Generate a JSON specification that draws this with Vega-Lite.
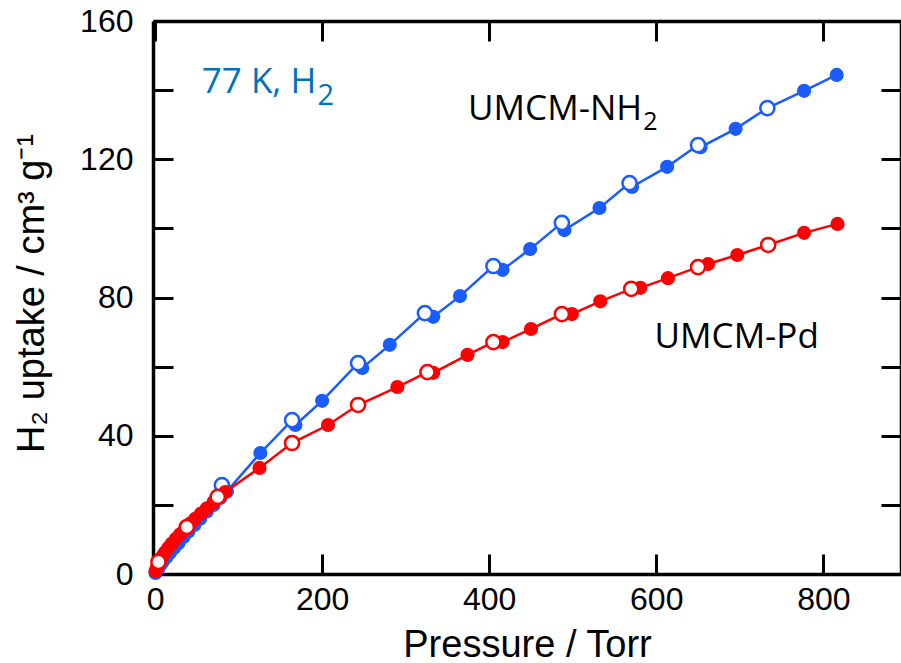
{
  "$schema": "https://vega.github.io/schema/vega-lite/v6.json",
  "width": 748,
  "height": 553,
  "autosize": {"type": "none"},
  "padding": {"left": 153, "top": 21, "right": 0, "bottom": 89},
  "background": "white",
  "config": {
    "view": {"stroke": null},
    "axis": {
      "grid": false,
      "domainColor": "black",
      "tickColor": "black",
      "labelColor": "black",
      "titleColor": "black",
      "domainWidth": 3.5,
      "tickWidth": 3,
      "labelFont": "Liberation Sans",
      "titleFont": "Liberation Sans",
      "labelFontSize": 32,
      "titleFontSize": 38,
      "titleFontWeight": "normal",
      "labelFlush": false,
      "labelOverlap": false
    }
  },
  "datasets": {
    "nh2": [
      {"p": 0.5, "u": 0.3, "kind": "ads"},
      {"p": 2, "u": 0.9, "kind": "ads"},
      {"p": 4, "u": 1.7, "kind": "ads"},
      {"p": 7, "u": 2.8, "kind": "ads"},
      {"p": 10, "u": 3.8, "kind": "ads"},
      {"p": 14, "u": 5.0, "kind": "ads"},
      {"p": 18, "u": 6.2, "kind": "ads"},
      {"p": 23, "u": 7.6, "kind": "ads"},
      {"p": 28, "u": 9.0, "kind": "ads"},
      {"p": 34, "u": 10.7, "kind": "ads"},
      {"p": 40, "u": 12.3, "kind": "ads"},
      {"p": 47, "u": 14.2, "kind": "ads"},
      {"p": 54, "u": 16.0, "kind": "ads"},
      {"p": 62, "u": 18.1, "kind": "ads"},
      {"p": 70, "u": 20.0, "kind": "ads"},
      {"p": 78, "u": 22.0, "kind": "ads"},
      {"p": 86, "u": 23.9, "kind": "ads"},
      {"p": 126, "u": 35.0, "kind": "ads"},
      {"p": 168, "u": 43.1, "kind": "ads"},
      {"p": 200, "u": 50.1, "kind": "ads"},
      {"p": 248, "u": 59.6, "kind": "ads"},
      {"p": 281, "u": 66.3, "kind": "ads"},
      {"p": 333, "u": 74.4, "kind": "ads"},
      {"p": 365, "u": 80.4, "kind": "ads"},
      {"p": 416, "u": 88.0, "kind": "ads"},
      {"p": 449, "u": 94.0, "kind": "ads"},
      {"p": 490, "u": 99.5, "kind": "ads"},
      {"p": 532, "u": 105.9, "kind": "ads"},
      {"p": 571, "u": 112.0, "kind": "ads"},
      {"p": 613, "u": 117.8, "kind": "ads"},
      {"p": 653, "u": 123.5, "kind": "ads"},
      {"p": 695, "u": 128.8, "kind": "ads"},
      {"p": 777, "u": 139.8, "kind": "ads"},
      {"p": 816, "u": 144.4, "kind": "ads"},
      {"p": 733, "u": 134.8, "kind": "des"},
      {"p": 650, "u": 124.1, "kind": "des"},
      {"p": 568, "u": 113.1, "kind": "des"},
      {"p": 487, "u": 101.6, "kind": "des"},
      {"p": 405, "u": 89.1, "kind": "des"},
      {"p": 323, "u": 75.5, "kind": "des"},
      {"p": 243, "u": 61.0, "kind": "des"},
      {"p": 164, "u": 44.5, "kind": "des"},
      {"p": 80, "u": 25.7, "kind": "des"}
    ],
    "pd": [
      {"p": 0.5, "u": 0.8, "kind": "ads"},
      {"p": 2, "u": 1.8, "kind": "ads"},
      {"p": 4, "u": 3.0, "kind": "ads"},
      {"p": 6, "u": 4.0, "kind": "ads"},
      {"p": 9, "u": 5.2, "kind": "ads"},
      {"p": 12, "u": 6.3, "kind": "ads"},
      {"p": 16, "u": 7.6, "kind": "ads"},
      {"p": 20, "u": 8.8, "kind": "ads"},
      {"p": 25, "u": 10.2, "kind": "ads"},
      {"p": 30, "u": 11.5, "kind": "ads"},
      {"p": 36, "u": 13.0, "kind": "ads"},
      {"p": 42, "u": 14.6, "kind": "ads"},
      {"p": 48, "u": 16.0, "kind": "ads"},
      {"p": 55, "u": 17.5, "kind": "ads"},
      {"p": 62, "u": 19.0, "kind": "ads"},
      {"p": 70, "u": 20.8, "kind": "ads"},
      {"p": 78, "u": 22.5, "kind": "ads"},
      {"p": 84, "u": 23.7, "kind": "ads"},
      {"p": 125, "u": 30.7, "kind": "ads"},
      {"p": 207, "u": 43.1, "kind": "ads"},
      {"p": 290, "u": 54.1, "kind": "ads"},
      {"p": 333, "u": 58.2, "kind": "ads"},
      {"p": 374, "u": 63.4, "kind": "ads"},
      {"p": 416, "u": 67.1, "kind": "ads"},
      {"p": 450, "u": 70.9, "kind": "ads"},
      {"p": 499, "u": 75.2, "kind": "ads"},
      {"p": 533, "u": 78.9, "kind": "ads"},
      {"p": 581, "u": 82.8, "kind": "ads"},
      {"p": 614, "u": 85.6, "kind": "ads"},
      {"p": 662, "u": 89.7, "kind": "ads"},
      {"p": 697, "u": 92.3, "kind": "ads"},
      {"p": 777, "u": 98.7, "kind": "ads"},
      {"p": 817, "u": 101.3, "kind": "ads"},
      {"p": 734, "u": 95.2, "kind": "des"},
      {"p": 650, "u": 88.8, "kind": "des"},
      {"p": 570, "u": 82.5, "kind": "des"},
      {"p": 487, "u": 75.2, "kind": "des"},
      {"p": 405, "u": 67.1, "kind": "des"},
      {"p": 326, "u": 58.4, "kind": "des"},
      {"p": 243, "u": 48.9, "kind": "des"},
      {"p": 164, "u": 37.9, "kind": "des"},
      {"p": 75, "u": 22.3, "kind": "des"},
      {"p": 38, "u": 13.6, "kind": "des"},
      {"p": 4, "u": 3.5, "kind": "des"}
    ],
    "labels": [
      {"p": 193, "u": 139.2, "t": "77 K, H", "kind": "blueMain"},
      {"p": 194.5, "u": 135.8, "t": "2", "kind": "blueSub"},
      {"p": 583, "u": 131.4, "t": "UMCM-NH", "kind": "main"},
      {"p": 584.5, "u": 128.5, "t": "2", "kind": "sub"},
      {"p": 598, "u": 65.4, "t": "UMCM-Pd", "kind": "pd"}
    ]
  },
  "layer": [
    {
      "data": {"name": "nh2"},
      "mark": {"type": "line", "color": "#1a5cff", "strokeWidth": 2.5},
      "encoding": {
        "x": {
          "field": "p", "type": "quantitative",
          "scale": {"domain": [-2.5, 893], "nice": false, "zero": false},
          "axis": {
            "orient": "bottom",
            "values": [0, 200, 400, 600, 800],
            "tickSize": -20,
            "labelPadding": 30,
            "title": "Pressure / Torr",
            "titleX": 374,
            "titleY": 82,
            "titleAlign": "center",
            "titleBaseline": "alphabetic"
          }
        },
        "y": {
          "field": "u", "type": "quantitative",
          "scale": {"domain": [0, 160], "nice": false},
          "axis": {
            "orient": "left",
            "values": [0, 20, 40, 60, 80, 100, 120, 140, 160],
            "labelExpr": "datum.value % 40 === 0 ? datum.label : ''",
            "tickSize": -20,
            "labelPadding": 40,
            "title": "H₂ uptake / cm³ g⁻¹",
            "titleX": -110,
            "titleY": 272,
            "titleAngle": -90,
            "titleAlign": "center",
            "titleBaseline": "alphabetic"
          }
        }
      }
    },
    {
      "data": {"name": "nh2"},
      "transform": [{"filter": "datum.kind === 'ads'"}],
      "mark": {"type": "point", "filled": true, "color": "#1a5cff", "size": 200, "opacity": 1},
      "encoding": {
        "x": {"field": "p", "type": "quantitative", "scale": {"domain": [-2.5, 893], "nice": false, "zero": false}, "axis": null},
        "y": {"field": "u", "type": "quantitative", "scale": {"domain": [0, 160], "nice": false}, "axis": null}
      }
    },
    {
      "data": {"name": "nh2"},
      "transform": [{"filter": "datum.kind === 'des'"}],
      "mark": {"type": "point", "filled": true, "fill": "white", "stroke": "#1a5cff", "strokeWidth": 2.5, "size": 200, "opacity": 1},
      "encoding": {
        "x": {"field": "p", "type": "quantitative", "scale": {"domain": [-2.5, 893], "nice": false, "zero": false}, "axis": null},
        "y": {"field": "u", "type": "quantitative", "scale": {"domain": [0, 160], "nice": false}, "axis": null}
      }
    },
    {
      "data": {"name": "pd"},
      "mark": {"type": "line", "color": "#ff0000", "strokeWidth": 2.5},
      "encoding": {
        "x": {
          "field": "p", "type": "quantitative",
          "scale": {"domain": [-2.5, 893], "nice": false, "zero": false},
          "axis": {"orient": "top", "values": [0, 200, 400, 600, 800], "tickSize": -20, "labels": false, "title": null}
        },
        "y": {
          "field": "u", "type": "quantitative",
          "scale": {"domain": [0, 160], "nice": false},
          "axis": {"orient": "right", "values": [0, 20, 40, 60, 80, 100, 120, 140, 160], "tickSize": -20, "labels": false, "title": null}
        }
      }
    },
    {
      "data": {"name": "pd"},
      "transform": [{"filter": "datum.kind === 'ads'"}],
      "mark": {"type": "point", "filled": true, "color": "#ff0000", "size": 200, "opacity": 1},
      "encoding": {
        "x": {"field": "p", "type": "quantitative", "scale": {"domain": [-2.5, 893], "nice": false, "zero": false}, "axis": null},
        "y": {"field": "u", "type": "quantitative", "scale": {"domain": [0, 160], "nice": false}, "axis": null}
      }
    },
    {
      "data": {"name": "pd"},
      "transform": [{"filter": "datum.kind === 'des'"}],
      "mark": {"type": "point", "filled": true, "fill": "white", "stroke": "#ff0000", "strokeWidth": 2.5, "size": 200, "opacity": 1},
      "encoding": {
        "x": {"field": "p", "type": "quantitative", "scale": {"domain": [-2.5, 893], "nice": false, "zero": false}, "axis": null},
        "y": {"field": "u", "type": "quantitative", "scale": {"domain": [0, 160], "nice": false}, "axis": null}
      }
    },
    {
      "data": {"name": "labels"},
      "transform": [{"filter": "datum.kind === 'blueMain'"}],
      "mark": {"type": "text", "font": "Open Sans", "fontSize": 35, "color": "#0070c0", "align": "right", "baseline": "alphabetic"},
      "encoding": {
        "x": {"field": "p", "type": "quantitative", "scale": {"domain": [-2.5, 893], "nice": false, "zero": false}, "axis": null},
        "y": {"field": "u", "type": "quantitative", "scale": {"domain": [0, 160], "nice": false}, "axis": null},
        "text": {"field": "t"}
      }
    },
    {
      "data": {"name": "labels"},
      "transform": [{"filter": "datum.kind === 'blueSub'"}],
      "mark": {"type": "text", "font": "Open Sans", "fontSize": 29, "color": "#0070c0", "align": "left", "baseline": "alphabetic"},
      "encoding": {
        "x": {"field": "p", "type": "quantitative", "scale": {"domain": [-2.5, 893], "nice": false, "zero": false}, "axis": null},
        "y": {"field": "u", "type": "quantitative", "scale": {"domain": [0, 160], "nice": false}, "axis": null},
        "text": {"field": "t"}
      }
    },
    {
      "data": {"name": "labels"},
      "transform": [{"filter": "datum.kind === 'main'"}],
      "mark": {"type": "text", "font": "Open Sans", "fontSize": 35, "color": "black", "align": "right", "baseline": "alphabetic"},
      "encoding": {
        "x": {"field": "p", "type": "quantitative", "scale": {"domain": [-2.5, 893], "nice": false, "zero": false}, "axis": null},
        "y": {"field": "u", "type": "quantitative", "scale": {"domain": [0, 160], "nice": false}, "axis": null},
        "text": {"field": "t"}
      }
    },
    {
      "data": {"name": "labels"},
      "transform": [{"filter": "datum.kind === 'sub'"}],
      "mark": {"type": "text", "font": "Open Sans", "fontSize": 25, "color": "black", "align": "left", "baseline": "alphabetic"},
      "encoding": {
        "x": {"field": "p", "type": "quantitative", "scale": {"domain": [-2.5, 893], "nice": false, "zero": false}, "axis": null},
        "y": {"field": "u", "type": "quantitative", "scale": {"domain": [0, 160], "nice": false}, "axis": null},
        "text": {"field": "t"}
      }
    },
    {
      "data": {"name": "labels"},
      "transform": [{"filter": "datum.kind === 'pd'"}],
      "mark": {"type": "text", "font": "Open Sans", "fontSize": 35, "color": "black", "align": "left", "baseline": "alphabetic"},
      "encoding": {
        "x": {"field": "p", "type": "quantitative", "scale": {"domain": [-2.5, 893], "nice": false, "zero": false}, "axis": null},
        "y": {"field": "u", "type": "quantitative", "scale": {"domain": [0, 160], "nice": false}, "axis": null},
        "text": {"field": "t"}
      }
    }
  ],
  "resolve": {"axis": {"x": "independent", "y": "independent"}}
}
